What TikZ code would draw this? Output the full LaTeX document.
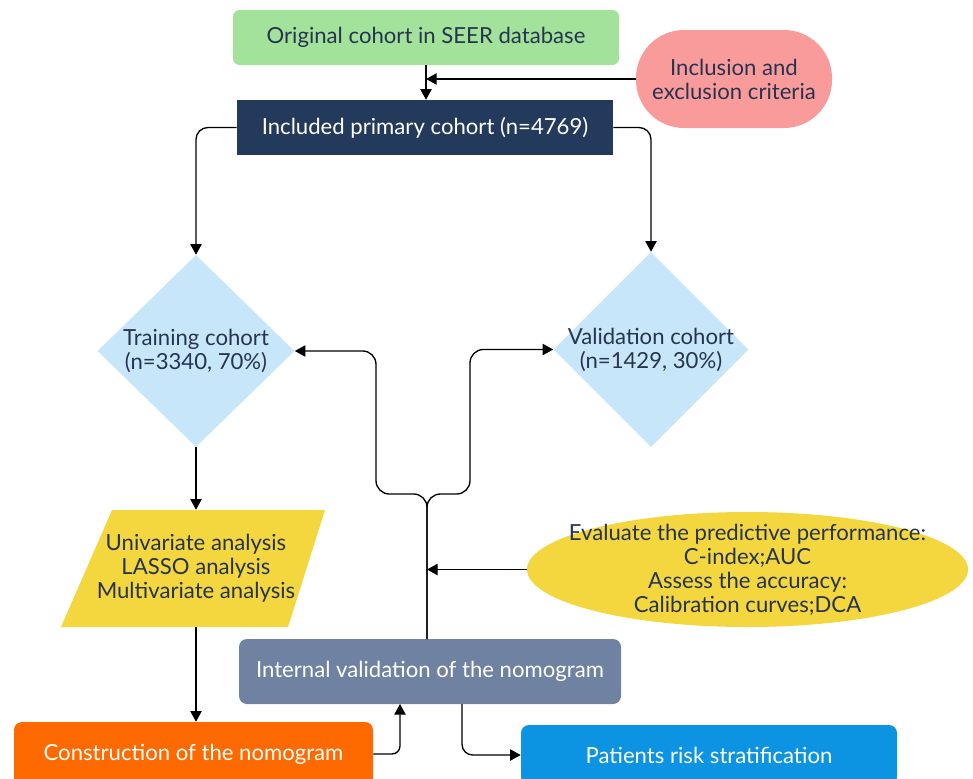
\documentclass[tikz,border=0pt]{standalone}
\usepackage{fontspec}
\setmainfont{Lato}
\usetikzlibrary{shapes.geometric,arrows.meta}
\definecolor{cgreen}{HTML}{A2E29B}
\definecolor{cpink}{HTML}{F99B9B}
\definecolor{cnavy}{HTML}{243A5C}
\definecolor{cdia}{HTML}{C7E6FA}
\definecolor{cyel}{HTML}{F4D63F}
\definecolor{cgrey}{HTML}{6F82A2}
\definecolor{corange}{HTML}{FF6A00}
\definecolor{cblue}{HTML}{0C94E2}
\definecolor{txtdark}{HTML}{27344F}
\begin{document}
\begin{tikzpicture}[x=0.75pt,y=-0.75pt,
  font=\fontsize{16.6}{18}\selectfont,
  box/.style={inner sep=0pt, align=center, text=txtdark},
  arr/.style={-{Triangle[length=8pt,width=8.5pt]}, line width=1pt, draw=black}]
\useasboundingbox (0,0) rectangle (973,778);

% shapes
\node[box, fill=cgreen, rounded corners=5pt, minimum width=289.5pt, minimum height=41.25pt] (orig) at (426,37.5) {Original cohort in SEER database};
\node[box, fill=cpink, rounded corners=36pt, minimum width=147pt, minimum height=73.5pt] (crit) at (734,79) {Inclusion and\\exclusion criteria};
\node[box, fill=cnavy, text=white, minimum width=282pt, minimum height=41.25pt] (incl) at (425,127.5) {Included primary cohort (n=4769)};

\node[diamond, fill=cdia, inner sep=0pt, minimum width=147.75pt, minimum height=144pt] (train) at (196,351) {};
\node[box] (trainlab) at (train) {Training cohort\\(n=3340, 70\%)};
\node[diamond, fill=cdia, inner sep=0pt, minimum width=146.25pt, minimum height=146.25pt] (valid) at (651,349.5) {};
\node[box] (validlab) at (valid) {Validation cohort\\(n=1429, 30\%)};

\fill[cyel] (112,510) -- (325,510) -- (288,627) -- (61,627) -- cycle;
\node[box, minimum height=87.75pt] (anal) at (196,568.5) {Univariate analysis\\LASSO analysis\\Multivariate analysis};

\node[ellipse, fill=cyel, inner sep=0pt, minimum width=330.75pt, minimum height=86.25pt] (eval) at (747.5,569.5) {};
\node[box] (evallab) at (eval) {Evaluate the predictive performance:\\C-index;AUC\\Assess the accuracy:\\Calibration curves;DCA};

\node[box, fill=cgrey, text=white, rounded corners=6pt, minimum width=286.5pt, minimum height=48.75pt] (intv) at (430,671.5) {Internal validation of the nomogram};
\node[box, fill=corange, text=white, rounded corners=6pt, minimum width=269.25pt, minimum height=48pt] (cons) at (193.5,754) {Construction of the nomogram};
\node[box, fill=cblue, text=white, rounded corners=6pt, minimum width=282pt, minimum height=45pt] (risk) at (709,755) {Patients risk stratification};

% connectors
\coordinate (ginL) at (400,704);
\coordinate (gout) at (462,704);
\coordinate (stem) at (427,639);
\coordinate (fork) at (427,494);

\draw[arr] (orig.south) -- (orig.south |- incl.north);
\draw[arr] (crit.west) -- (crit.west -| orig.south);
\draw[arr, rounded corners=9pt] (incl.west) -| (train.north);
\draw[arr, rounded corners=9pt] (incl.east) -| (valid.north);
\draw[arr] (train.south) -- (train.south |- anal.north);
\draw[arr] (anal.south) -- (anal.south |- cons.north);
\draw[arr, rounded corners=6pt] (cons.east) -| (ginL);
\draw[arr, rounded corners=8pt] (gout) |- (risk.west);
\draw[arr, rounded corners=10pt] (stem) -- (fork) -| (376,351) -- (train.east);
\draw[arr, rounded corners=10pt] (stem) -- (fork) -| (470,349.5) -- (valid.west);
\draw[arr] (eval.west) -- (eval.west -| stem);
\end{tikzpicture}
\end{document}
